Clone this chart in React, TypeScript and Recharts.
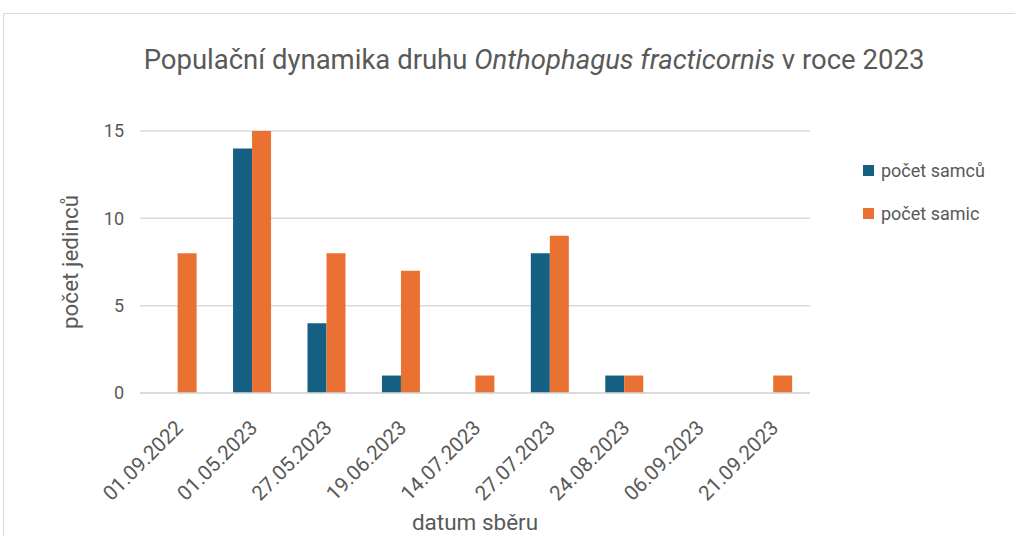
import { BarChart, Bar, XAxis, YAxis, CartesianGrid, Legend } from 'recharts';

const dates = ['01.09.2022', '01.05.2023', '27.05.2023', '19.06.2023', '14.07.2023', '27.07.2023', '24.08.2023', '06.09.2023', '21.09.2023'];
const males = [0, 14, 4, 1, 0, 8, 1, 0, 0];
const females = [8, 15, 8, 7, 1, 9, 1, 0, 1];
const yTicks = [0, 5, 10, 15];

const chartData = dates.map((d, i) => ({ datum: d, samci: males[i], samice: females[i] }));

const FONT = 'Roboto, "Open Sans", sans-serif';
const TEXT = '#595959';

const DateTick = (props: any) => {
  const { x, y, payload } = props;
  const tx = x + 7;
  const ty = y + 28;
  return (
    <text
      x={tx}
      y={ty}
      textAnchor="end"
      fill={TEXT}
      fontSize={20.5}
      fontFamily={FONT}
      transform={`rotate(-45, ${tx}, ${ty})`}
    >
      {payload.value}
    </text>
  );
};

const LegendBox = () => {
  const items = [
    { label: 'počet samců', color: '#156082' },
    { label: 'počet samic', color: '#E97132' },
  ];
  return (
    <div style={{ fontFamily: FONT, fontSize: 18, color: TEXT }}>
      {items.map((it) => (
        <div key={it.label} style={{ display: 'flex', alignItems: 'center', height: 22, marginBottom: 21 }}>
          <span style={{ width: 11, height: 11, background: it.color, marginRight: 7, display: 'inline-block' }} />
          <span>{it.label}</span>
        </div>
      ))}
    </div>
  );
};

export default function App() {
  return (
    <div style={{ position: 'absolute', left: 0, top: 0, width: 1015, height: 536, overflow: 'hidden', background: '#fff' }}>
      <div style={{ position: 'absolute', left: 3, top: 13, width: 1100, height: 700, border: '1px solid #d9d9d9' }} />
      <div
        style={{
          position: 'absolute',
          left: 0,
          width: 1068,
          top: 43,
          textAlign: 'center',
          fontFamily: FONT,
          fontSize: 27.5,
          color: TEXT,
          whiteSpace: 'nowrap',
        }}
      >
        Populační dynamika druhu <i>Onthophagus fracticornis</i> v roce 2023
      </div>
      <BarChart
        width={1015}
        height={536}
        data={chartData}
        margin={{ top: 131, right: 55, left: 0, bottom: 0 }}
        barGap={0}
        barCategoryGap="25%"
        style={{ position: 'absolute', left: 0, top: 0 }}
      >
        <CartesianGrid vertical={false} stroke="#d9d9d9" strokeWidth={1.5} />
        <XAxis
          dataKey="datum"
          height={143}
          tick={<DateTick />}
          tickLine={false}
          axisLine={{ stroke: '#d9d9d9', strokeWidth: 1.5 }}
          interval={0}
          label={{ value: 'datum sběru', position: 'insideBottom', offset: 6, fill: TEXT, fontSize: 22.5, fontFamily: FONT }}
        />
        <YAxis
          width={140}
          domain={[0, 15]}
          ticks={yTicks}
          tickLine={false}
          axisLine={false}
          tick={{ fill: TEXT, fontSize: 18, fontFamily: FONT }}
          tickMargin={10}
          label={{ value: 'počet jedinců', angle: -90, position: 'center', fill: TEXT, fontSize: 22.5, fontFamily: FONT }}
        />
        <Legend
          layout="vertical"
          align="right"
          verticalAlign="top"
          content={<LegendBox />}
          wrapperStyle={{ left: 863, top: 159, width: 150 }}
        />
        <Bar dataKey="samci" name="počet samců" fill="#156082" isAnimationActive={false} />
        <Bar dataKey="samice" name="počet samic" fill="#E97132" isAnimationActive={false} />
      </BarChart>
    </div>
  );
}
